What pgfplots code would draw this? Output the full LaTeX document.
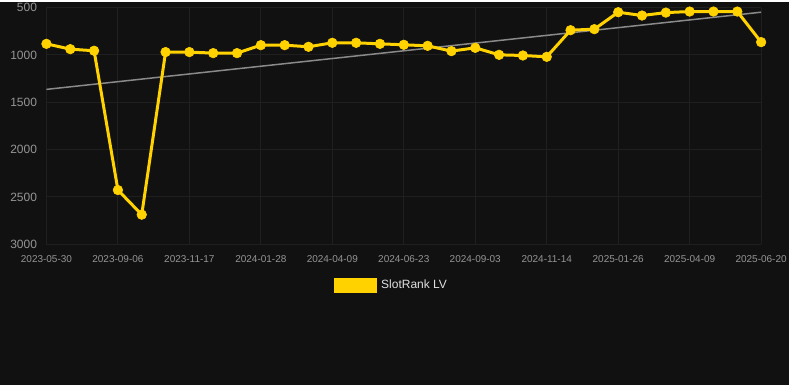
\documentclass[border=0pt]{standalone}
\usepackage{pgfplots}
\pgfplotsset{compat=1.18}
\usepackage{fontspec}
\setmainfont{Liberation Sans}
\definecolor{bg}{HTML}{111111}
\definecolor{gridc}{HTML}{1F1F1F}
\definecolor{gold}{HTML}{FFD200}
\definecolor{trend}{HTML}{8A8A8A}
\definecolor{tickc}{HTML}{959595}
\definecolor{legc}{HTML}{E0E0E0}
\begin{document}
\begin{tikzpicture}[x=1pt,y=1pt]
\fill[bg] (0,0) rectangle (790,384);
\begin{axis}[
  at={(46.5pt,141pt)}, anchor=south west,
  scale only axis, width=715.5pt, height=237pt,
  xmin=0, xmax=30, ymin=500, ymax=3000,
  y dir=reverse,
  axis line style={draw=none},
  major tick length=0pt,
  grid=major, major grid style={gridc, line width=1pt},
  xtick={0,3,...,30},
  xticklabels={2023-05-30,2023-09-06,2023-11-17,2024-01-28,2024-04-09,2024-06-23,2024-09-03,2024-11-14,2025-01-26,2025-04-09,2025-06-20},
  ytick={500,1000,1500,2000,2500,3000},
  /pgf/number format/assume math mode=true,
  /pgf/number format/1000 sep={},
  xticklabel style={font=\fontsize{10}{12}\selectfont, text=tickc, yshift=-8pt},
  yticklabel style={font=\fontsize{12}{14}\selectfont, text=tickc, xshift=-6pt},
  clip=false,
  legend style={at={(0.483,-0.173)}, anchor=center, draw=none, fill=none,
    text=legc, font=\fontsize{12}{14}\selectfont},
  legend image code/.code={\fill[gold] (0pt,-6pt) rectangle (40pt,6pt);},
]
\addplot[trend, line width=1.5pt, forget plot] coordinates {(0,1364) (30,549)};
\addplot[gold, line width=3pt, mark=*, mark size=4.8pt, mark options={fill=gold, draw=gold, line width=0.6pt}] coordinates {
(0,883) (1,939) (2,956) (3,2427) (4,2687) (5,970) (6,970) (7,981) (8,981) (9,897)
(10,897) (11,914) (12,872) (13,872) (14,883) (15,893) (16,904) (17,960) (18,925) (19,999)
(20,1006) (21,1020) (22,739) (23,728) (24,549) (25,584) (26,553) (27,542) (28,542) (29,542)
(30,865)};
\addlegendentry{\hspace{2pt}SlotRank LV}
\end{axis}
\end{tikzpicture}
\end{document}
